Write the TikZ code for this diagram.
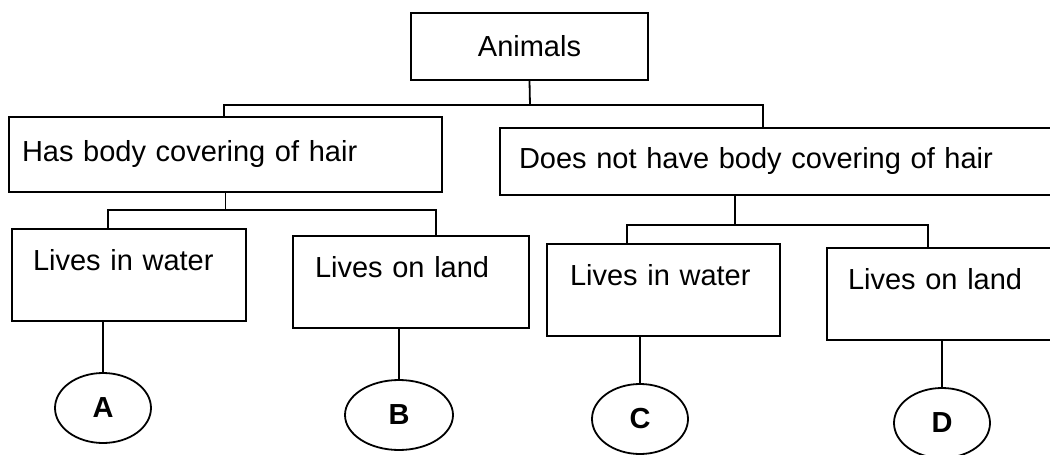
\documentclass[tikz,border=0pt]{standalone}
\usepackage{fontspec}
\setmainfont{Liberation Sans}
\usetikzlibrary{shapes.geometric,positioning}

\begin{document}
\begin{tikzpicture}[x=0.5pt, y=-0.5pt, line width=0.9pt,
                box/.style={draw, rectangle, align=left, inner ysep=0pt, font=\fontsize{14.5}{17}\selectfont},
                leaf/.style={box, anchor=north, text height=21pt, text depth=25pt},
                tag/.style={draw, ellipse, inner sep=0pt, minimum width=48pt, minimum height=35pt, font=\fontsize{14.5}{17}\selectfont\bfseries}]
        \clip (0, 0) rectangle (1050, 455);
        \node[box, align=center, minimum width=118.5pt, minimum height=33.5pt] (animals) at (529.5, 46.5) {Animals};
        \node[box, inner xsep=6.5pt, text width=203.5pt, minimum height=37.5pt] (hair) at (225.5, 154.5) {Has body covering of hair};
        \node[box, inner xsep=9.5pt, text width=261pt, minimum height=33.5pt] (nohair) at (780, 161.5) {Does not have body covering of hair};
        \node[leaf, inner xsep=10.5pt, text width=96pt] (wA) at (129, 228) {Lives in water};
        \node[leaf, inner xsep=11pt, text width=96pt] (lB) at (411, 235) {Lives on land};
        \node[leaf, inner xsep=11.5pt, text width=93.5pt] (wC) at (663.5, 243) {Lives in water};
        \node[leaf, inner xsep=10.5pt, text width=93pt] (lD) at (941, 247) {Lives on land};
        \node[tag] (A) at (103, 408) {A};
        \node[tag, minimum width=54pt] (B) at (399, 415) {B};
        \node[tag] (C) at (640, 419) {C};
        \node[tag] (D) at (942, 423) {D};
        \coordinate (top) at (530, 105);
        \coordinate (hairfork) at (224, 210);
        \coordinate (nohairfork) at (735, 225);
        \draw (animals.south) -- (top);
        \draw ([xshift=-0.75pt]hair.north) |- (top) -| ([xshift=-8.5pt]nohair.north);
        \draw (hair.south) -- (hair.south |- hairfork);
        \draw ([xshift=-10.5pt]wA.north) |- (hairfork) -| ([xshift=12.5pt]lB.north);
        \draw ([xshift=-22.5pt]nohair.south) -- (nohairfork);
        \draw ([xshift=-18.25pt]wC.north) |- (nohairfork) -| ([xshift=-6.5pt]lD.north);
        \draw (A.north |- wA.south) -- (A.north);
        \draw (B.north |- lB.south) -- (B.north);
        \draw (C.north |- wC.south) -- (C.north);
        \draw (D.north |- lD.south) -- (D.north);
\end{tikzpicture}
\end{document}
